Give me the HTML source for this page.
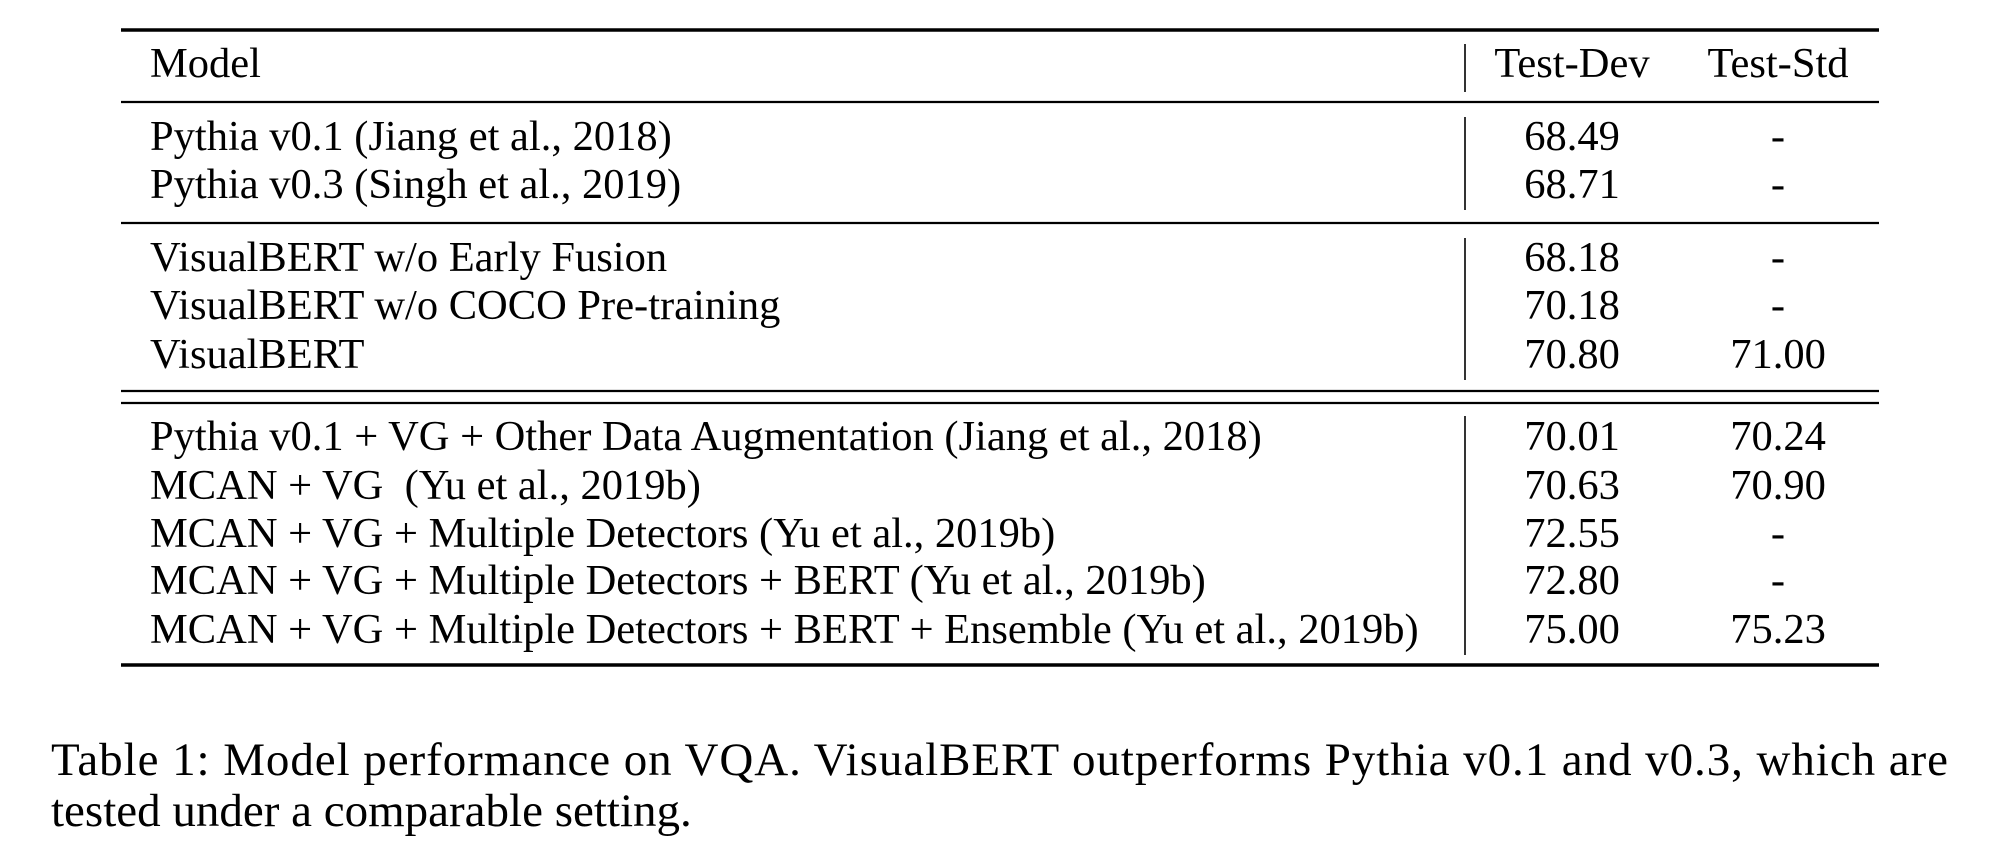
<!DOCTYPE html>
<html><head><meta charset="utf-8"><style>
html,body{margin:0;padding:0;background:#fff;}
svg{display:block;}
text{font-family:"Liberation Serif",serif;fill:#000;}
</style></head><body>
<svg width="1996" height="867" viewBox="0 0 1996 867">
<g stroke="#000">
<line x1="121" x2="1879" y1="30" y2="30" stroke-width="3.5"/>
<line x1="121" x2="1879" y1="102" y2="102" stroke-width="2.2"/>
<line x1="121" x2="1879" y1="223" y2="223" stroke-width="2.2"/>
<line x1="121" x2="1879" y1="391" y2="391" stroke-width="2.2"/>
<line x1="121" x2="1879" y1="403" y2="403" stroke-width="2.2"/>
<line x1="121" x2="1879" y1="665" y2="665" stroke-width="3.5"/>
<line x1="1465" x2="1465" y1="44" y2="92" stroke-width="1.6"/>
<line x1="1465" x2="1465" y1="117" y2="210" stroke-width="1.6"/>
<line x1="1465" x2="1465" y1="238" y2="380" stroke-width="1.6"/>
<line x1="1465" x2="1465" y1="416" y2="655" stroke-width="1.6"/>
</g>
<g font-size="42.5">
<text x="150" y="77">Model</text>
<text x="1572" y="77" text-anchor="middle">Test-Dev</text>
<text x="1778" y="77" text-anchor="middle">Test-Std</text>
</g>
<g font-size="42.5">
<text x="150" y="150">Pythia v0.1 (Jiang et al., 2018)</text>
<text x="1572" y="150" text-anchor="middle">68.49</text>
<text x="1778" y="150" text-anchor="middle">-</text>
<text x="150" y="198">Pythia v0.3 (Singh et al., 2019)</text>
<text x="1572" y="198" text-anchor="middle">68.71</text>
<text x="1778" y="198" text-anchor="middle">-</text>

<text x="150" y="271">VisualBERT w/o Early Fusion</text>
<text x="1572" y="271" text-anchor="middle">68.18</text>
<text x="1778" y="271" text-anchor="middle">-</text>
<text x="150" y="319">VisualBERT w/o COCO Pre-training</text>
<text x="1572" y="319" text-anchor="middle">70.18</text>
<text x="1778" y="319" text-anchor="middle">-</text>
<text x="150" y="368">VisualBERT</text>
<text x="1572" y="368" text-anchor="middle">70.80</text>
<text x="1778" y="368" text-anchor="middle">71.00</text>

<text x="150" y="450">Pythia v0.1 + VG + Other Data Augmentation (Jiang et al., 2018)</text>
<text x="1572" y="450" text-anchor="middle">70.01</text>
<text x="1778" y="450" text-anchor="middle">70.24</text>
<text x="150" y="499" xml:space="preserve">MCAN + VG  (Yu et al., 2019b)</text>
<text x="1572" y="499" text-anchor="middle">70.63</text>
<text x="1778" y="499" text-anchor="middle">70.90</text>
<text x="150" y="547">MCAN + VG + Multiple Detectors (Yu et al., 2019b)</text>
<text x="1572" y="547" text-anchor="middle">72.55</text>
<text x="1778" y="547" text-anchor="middle">-</text>
<text x="150" y="594">MCAN + VG + Multiple Detectors + BERT (Yu et al., 2019b)</text>
<text x="1572" y="594" text-anchor="middle">72.80</text>
<text x="1778" y="594" text-anchor="middle">-</text>
<text x="150" y="643">MCAN + VG + Multiple Detectors + BERT + Ensemble (Yu et al., 2019b)</text>
<text x="1572" y="643" text-anchor="middle">75.00</text>
<text x="1778" y="643" text-anchor="middle">75.23</text>
</g>
<g font-size="47">
<text x="51" y="775" textLength="1897" lengthAdjust="spacing">Table 1: Model performance on VQA. VisualBERT outperforms Pythia v0.1 and v0.3, which are</text>
<text x="51" y="826">tested under a comparable setting.</text>
</g>
</svg>
</body></html>
